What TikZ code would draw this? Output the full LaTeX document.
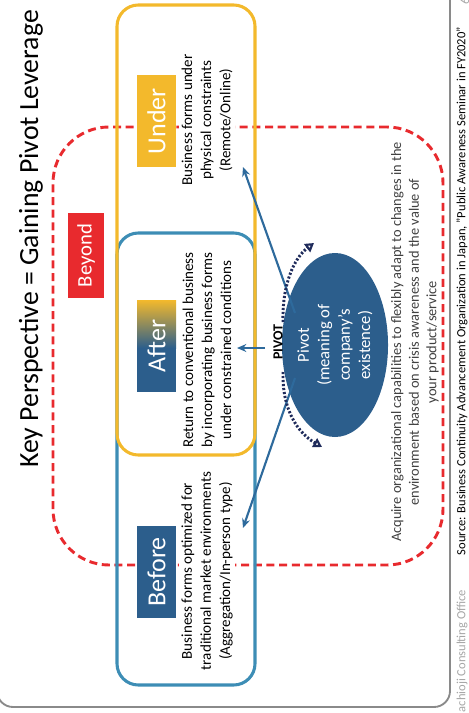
\documentclass[tikz,border=0pt]{standalone}
\usepackage{fontspec}
\setmainfont{Carlito}
\usetikzlibrary{arrows.meta,shapes.geometric}
\definecolor{gold}{HTML}{F3B92C}
\definecolor{boxblue}{HTML}{3D8DB5}
\definecolor{lblblue}{HTML}{2C5E8C}
\definecolor{arrowblue}{HTML}{2E6A9C}
\definecolor{beyondred}{HTML}{E82A2E}
\definecolor{navy}{HTML}{1F2B5B}
\definecolor{framegray}{HTML}{8A8A8A}
\definecolor{textgray}{HTML}{404040}
\definecolor{lightgray}{HTML}{A6A6A6}
\tikzset{
  bigbox/.style={line width=2.3pt, rounded corners=16pt, minimum width=103.5pt, inner sep=0pt},
  lbl/.style={rotate=90, text=white, font=\fontsize{19.5}{22}\selectfont, minimum width=69pt, minimum height=29.25pt, inner sep=0pt},
  desc/.style={rotate=90, fill=white, align=center, font=\fontsize{11.3}{14.3}\selectfont, inner sep=2pt},
  barrow/.style={arrowblue, line width=1.6pt, -{Stealth[length=7pt,width=6pt]}},
  pivarrow/.style={navy, line width=2.2pt, dash pattern=on 1.6pt off 1.4pt, -{Triangle[open,length=6.5pt,width=7.5pt,line width=1.6pt]}},
}
\begin{document}
\begin{tikzpicture}[x=0.75pt,y=0.75pt]
\useasboundingbox (0,0) rectangle (468,-713);
\clip (0,0) rectangle (468,-713);
% slide frame
\draw[framegray, line width=1.4pt, rounded corners=12pt] (-3,30) rectangle (450,-707);
% title
\node[rotate=90, font=\fontsize{20.8}{24}\selectfont] (title) at (31,-239) {Key Perspective = Gaining Pivot Leverage};
% beyond dashed region
\node[draw=beyondred, line width=2.2pt, dash pattern=on 6pt off 3.5pt, rounded corners=42pt, minimum width=292.5pt, minimum height=328.5pt, inner sep=0pt] (beyondreg) at (248,-346) {};
\node[rotate=90, fill=beyondred, text=white, font=\fontsize{15.5}{18}\selectfont, minimum width=64pt, minimum height=27pt, inner sep=0pt] (beyond) at (86,-255.5) {Beyond};
% before/after box and under box
\node[bigbox, draw=boxblue, minimum height=339pt] (beforebox) at (186,-459) {};
\node[bigbox, draw=gold, minimum height=337.5pt] (underbox) at (186,-230) {};
% labels
\node[lbl, fill=gold] (underlbl) at (156.5,-121) {Under};
\fill[lblblue] (137,-338) rectangle (176,-392);
\shade[top color=gold, bottom color=lblblue] (137,-300) rectangle (176,-348);
\node[lbl] (afterlbl) at (156.5,-346) {After};
\node[lbl, fill=lblblue] (beforelbl) at (156.5,-572) {Before};
% descriptions
\node[desc] (underdesc) at (207,-120) {Business forms under\\physical constraints\\(Remote/Online)};
\node[desc] (afterdesc) at (207,-350) {Return to conventional business\\by incorporating business forms\\under constrained conditions};
\node[desc] (beforedesc) at (207,-571) {Business forms optimized for\\traditional market environments\\(Aggregation/In-person type)};
% pivot ellipse
\node[ellipse, fill=lblblue, text=white, rotate=90, align=center, minimum width=138pt, minimum height=63.75pt, inner sep=0pt, font=\fontsize{12.5}{15.3}\selectfont] (pivot) at (335,-345) {Pivot\\(meaning of\\company's\\existence)};
\node[rotate=90, font=\bfseries\fontsize{10.5}{12}\selectfont] (pivotlbl) at (278,-342) {PIVOT};
% arrows
\coordinate (uend) at (243,-167);
\coordinate (bend) at (243,-528);
\coordinate (atail) at (265,-348);
\coordinate (aend) at (237,-348);
\coordinate (ustart) at (295,-313);
\coordinate (bstart) at (295,-378);
\draw[barrow] (ustart) -- (uend);
\draw[barrow] (bstart) -- (bend);
\draw[barrow] (atail) -- (aend);
% pivot rotation arrows
\coordinate (p1s) at (283,-322);
\coordinate (p1e) at (314,-243);
\coordinate (p2s) at (283,-372);
\coordinate (p2e) at (322,-447);
\draw[pivarrow] (p1s) .. controls (282,-285) and (294,-258) .. (p1e);
\draw[pivarrow] (p2s) .. controls (282,-410) and (298,-433) .. (p2e);
% bottom text
\node[rotate=90, align=center, text=textgray, font=\fontsize{10.8}{13.2}\selectfont] (acquire) at (415,-342) {Acquire organizational capabilities to flexibly adapt to changes in the\\environment based on crisis awareness and the value of\\your product/service};
% footer
\node[rotate=90, font=\fontsize{9.4}{11}\selectfont] (source) at (462,-291) {Source: Business Continuity Advancement Organization in Japan, "Public Awareness Seminar in FY2020"};
\node[rotate=90, anchor=east, text=lightgray, font=\fontsize{9.4}{11}\selectfont] (office) at (462,-585) {Hachioji Consulting Office};
\node[rotate=90, anchor=west, text=lightgray, font=\fontsize{9.4}{11}\selectfont] (pagenum) at (465,-9) {6};
\end{tikzpicture}
\end{document}
